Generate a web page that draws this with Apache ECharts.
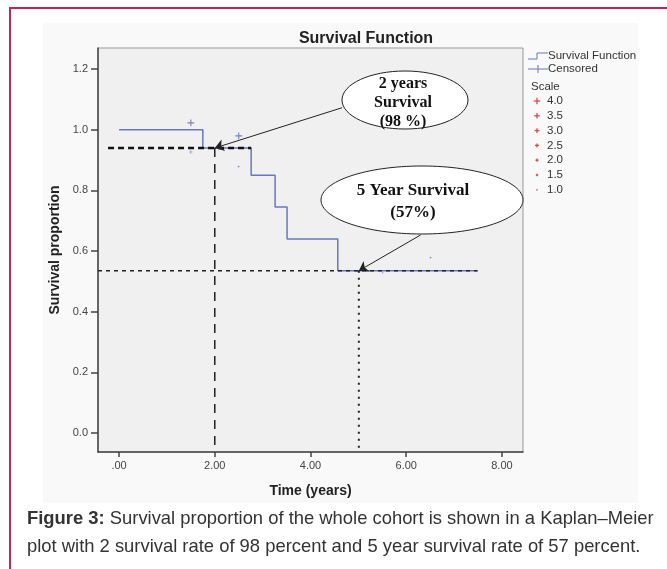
<!DOCTYPE html>
<html><head><meta charset="utf-8">
<script src="https://cdn.jsdelivr.net/npm/echarts@6/dist/echarts.min.js"></script>
<style>html,body{margin:0;padding:0;background:#fff}#c{width:667px;height:569px}</style>
</head><body><div id="c"></div>
<script>
// ---- data ----
const xTicks = [0, 2, 4, 6, 8];
const yTicks = [0.0, 0.2, 0.4, 0.6, 0.8, 1.0, 1.2];
const stepTimes = [0, 1.75, 2.76, 3.26, 3.51, 4.57, 7.49];
const stepSurvival = [1.0, 0.94, 0.85, 0.745, 0.64, 0.535, 0.535];
const censoredTimes = [1.5, 1.5, 2.5, 2.5, 5.51, 6.51];
const censoredSurvival = [1.023, 0.927, 0.98, 0.878, 0.528, 0.578];
const censoredScale = [4.0, 2.0, 4.0, 1.5, 1.5, 1.5];
const scaleLevels = [4.0, 3.5, 3.0, 2.5, 2.0, 1.5, 1.0];
const twoYearTime = 2.0, twoYearValue = 0.94, twoYearLineX = [-0.23, 2.76];
const fiveYearTime = 5.01, fiveYearValue = 0.535, fiveYearLineX = [-0.44, 7.49];
const arrowTwoYearStart = [4.66, 1.073];
const arrowFiveYearStart = [6.3, 0.653];
const xMin = -0.44, xMax = 8.44, yMin = -0.063, yMax = 1.27;

const blue = '#6878bb';
const sans = 'Liberation Sans, Arial, sans-serif';
const serif = 'Liberation Serif, Times New Roman, serif';

const stepData = stepTimes.map((t, i) => [t, stepSurvival[i]]);
const censData = censoredTimes.map((t, i) => [t, censoredSurvival[i], censoredScale[i]]);
const plusPath = 'path://M0,4.2H10V5.8H0Z M4.2,0H5.8V10H4.2Z';

const chart = echarts.init(document.getElementById('c'), null, {renderer: 'canvas'});

const graphics = [
  {type: 'rect', z: -100, shape: {x: 43, y: 23, width: 595, height: 480}, style: {fill: '#f9f9f9'}},
  {type: 'rect', z: -90, shape: {x: 10, y: 8, width: 700, height: 620}, style: {fill: 'none', stroke: '#c42356', lineWidth: 2}},
  // legend
  {type: 'polyline', z: 50, shape: {points: [[528, 59], [537, 59], [537, 53], [548, 53]]}, style: {stroke: blue, lineWidth: 1, fill: 'none'}},
  {type: 'text', z: 50, x: 548, y: 56, style: {text: 'Survival Function', font: '11.5px ' + sans, fill: '#333', verticalAlign: 'middle'}},
  {type: 'line', z: 50, shape: {x1: 528, y1: 69, x2: 548, y2: 69}, style: {stroke: blue, lineWidth: 1}},
  {type: 'line', z: 50, shape: {x1: 538, y1: 65, x2: 538, y2: 73}, style: {stroke: blue, lineWidth: 1}},
  {type: 'text', z: 50, x: 548, y: 69, style: {text: 'Censored', font: '11.5px ' + sans, fill: '#333', verticalAlign: 'middle'}},
  {type: 'text', z: 50, x: 531, y: 87, style: {text: 'Scale', font: '11.5px ' + sans, fill: '#333', verticalAlign: 'middle'}}
];
scaleLevels.forEach((s, i) => {
  const y = 101 + 14.8 * i;
  const h = s * 0.8;
  graphics.push({type: 'line', z: 50, shape: {x1: 537 - h, y1: y, x2: 537 + h, y2: y}, style: {stroke: '#e04848', lineWidth: 1.3}});
  if (s > 1.2) graphics.push({type: 'line', z: 50, shape: {x1: 537, y1: y - h, x2: 537, y2: y + h}, style: {stroke: '#e04848', lineWidth: 1.3}});
  graphics.push({type: 'text', z: 50, x: 547, y: y, style: {text: s.toFixed(1), font: '11.5px ' + sans, fill: '#333', verticalAlign: 'middle'}});
});
// annotation ellipses
graphics.push(
  {type: 'ellipse', z: 60, shape: {cx: 405, cy: 100, rx: 63, ry: 29}, style: {fill: '#fff', stroke: '#222', lineWidth: 1}},
  {type: 'text', z: 61, x: 403, y: 103, style: {text: '2 years\nSurvival\n(98 %)', font: 'bold 16px ' + serif, lineHeight: 19, fill: '#111', align: 'center', verticalAlign: 'middle'}},
  {type: 'ellipse', z: 60, shape: {cx: 422, cy: 200, rx: 101, ry: 34}, style: {fill: '#fff', stroke: '#222', lineWidth: 1}},
  {type: 'text', z: 61, x: 413, y: 202, style: {text: '5 Year Survival\n(57%)', font: 'bold 17px ' + serif, lineHeight: 22, fill: '#111', align: 'center', verticalAlign: 'middle'}},
  // caption
  {type: 'text', z: 50, x: 27, y: 519, style: {rich: {b: {font: 'bold 18.4px ' + sans, fill: '#333'}, n: {font: '18.4px ' + sans, fill: '#333'}},
    text: '{b|Figure 3:}{n| Survival proportion of the whole cohort is shown in a Kaplan–Meier}', verticalAlign: 'middle'}},
  {type: 'text', z: 50, x: 27, y: 547, style: {text: 'plot with 2 survival rate of 98 percent and 5 year survival rate of 57 percent.', font: '18.4px ' + sans, fill: '#333', verticalAlign: 'middle'}}
);

const option = {
  animation: false,
  title: {text: 'Survival Function', left: 361, top: 26, textAlign: 'center',
    textStyle: {fontFamily: sans, fontSize: 16, fontWeight: 'bold', color: '#222'}},
  grid: {left: 98, right: 144, top: 48, bottom: 117, show: true, backgroundColor: '#f0f0f0', borderColor: '#999', borderWidth: 1},
  xAxis: {
    type: 'value', min: xMin, max: xMax,
    name: 'Time (years)', nameLocation: 'middle', nameGap: 32,
    nameTextStyle: {fontFamily: sans, fontSize: 14, fontWeight: 'bold', color: '#222'},
    axisLine: {show: true, onZero: false, lineStyle: {color: '#444', width: 1.5}},
    axisTick: {show: true, length: 5, customValues: xTicks, lineStyle: {color: '#444', width: 1.5}},
    axisLabel: {customValues: xTicks, margin: 8, fontFamily: sans, fontSize: 11, color: '#444',
      formatter: v => v === 0 ? '.00' : v.toFixed(2)},
    splitLine: {show: false}
  },
  yAxis: {
    type: 'value', min: yMin, max: yMax,
    name: 'Survival proportion', nameLocation: 'middle', nameGap: 31,
    nameTextStyle: {fontFamily: sans, fontSize: 14, fontWeight: 'bold', color: '#222'},
    axisLine: {show: true, onZero: false, lineStyle: {color: '#444', width: 1.5}},
    axisTick: {show: true, length: 7, customValues: yTicks, lineStyle: {color: '#444', width: 1.5}},
    axisLabel: {customValues: yTicks, margin: 10, fontFamily: sans, fontSize: 11, color: '#444',
      formatter: v => v.toFixed(1)},
    splitLine: {show: false}
  },
  series: [
    {type: 'line', name: 'Survival Function', step: 'end', data: stepData, showSymbol: false, z: 3,
      lineStyle: {color: blue, width: 1.5}},
    {type: 'line', data: [[twoYearLineX[0], twoYearValue], [twoYearLineX[1], twoYearValue]], showSymbol: false, z: 4,
      lineStyle: {color: '#111', width: 2.5, type: [6, 4]}},
    {type: 'line', data: [[twoYearTime, twoYearValue], [twoYearTime, yMin]], showSymbol: false, z: 4,
      lineStyle: {color: '#222', width: 1.5, type: [9, 7]}},
    {type: 'line', data: [[fiveYearLineX[0], fiveYearValue], [fiveYearLineX[1], fiveYearValue]], showSymbol: false, z: 4,
      lineStyle: {color: '#222', width: 1.5, type: [4, 4]}},
    {type: 'line', data: [[fiveYearTime, fiveYearValue], [fiveYearTime, yMin]], showSymbol: false, z: 4,
      lineStyle: {color: '#222', width: 2, type: [2, 5]}},
    {type: 'scatter', name: 'Censored', data: censData, symbol: plusPath, z: 5,
      symbolSize: d => d[2] * 1.7, itemStyle: {color: '#5566aa'}},
    {type: 'lines', coordinateSystem: 'cartesian2d', z: 70, symbol: ['none', 'arrow'], symbolSize: 9,
      lineStyle: {color: '#222', width: 1, opacity: 1},
      data: [{coords: [arrowTwoYearStart, [twoYearTime, twoYearValue]]},
             {coords: [arrowFiveYearStart, [fiveYearTime, fiveYearValue]]}]}
  ],
  graphic: graphics
};
chart.setOption(option);
</script></body></html>
